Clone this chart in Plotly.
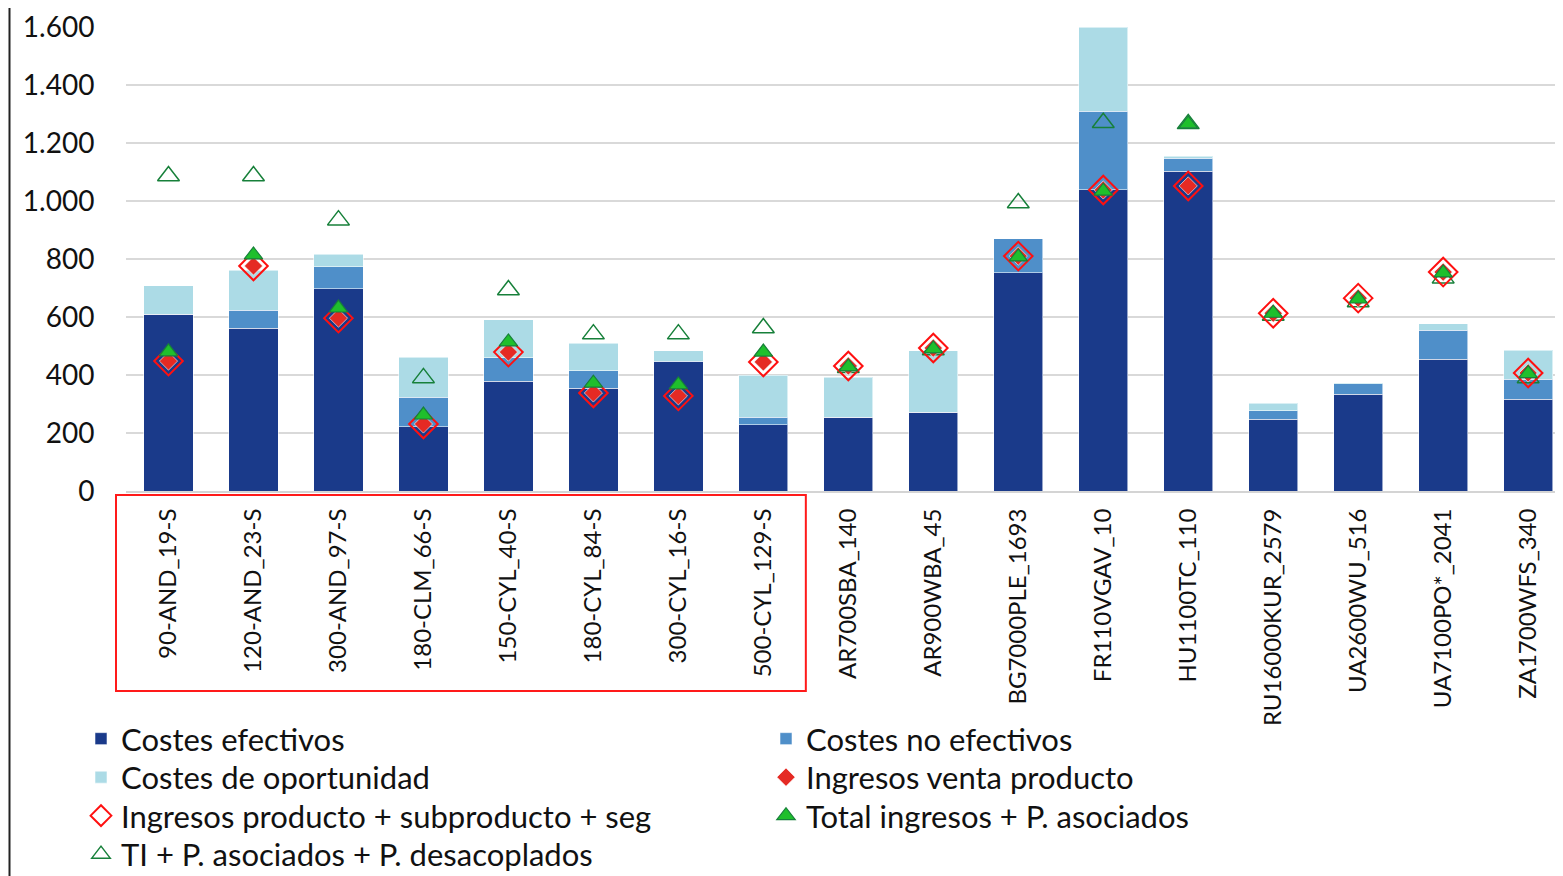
import plotly.graph_objects as go

categories = ["90-AND_19-S", "120-AND_23-S", "300-AND_97-S", "180-CLM_66-S", "150-CYL_40-S",
              "180-CYL_84-S", "300-CYL_16-S", "500-CYL_129-S", "AR700SBA_140", "AR900WBA_45",
              "BG7000PLE_1693", "FR110VGAV_10", "HU1100TC_110", "RU16000KUR_2579", "UA2600WU_516",
              "UA7100PO*_2041", "ZA1700WFS_340"]

costes_efectivos = [610, 562, 697, 221, 379, 355, 445, 228, 255, 272, 752, 1038, 1103, 248, 334, 455, 317]
costes_no_efectivos = [0, 62, 76, 103, 80, 59, 3, 27, 0, 0, 117, 272, 45, 28, 35, 100, 69]
costes_oportunidad = [97, 138, 44, 138, 131, 96, 35, 145, 138, 211, 0, 290, 7, 27, 3, 21, 100]
ingresos_venta = [448, 776, 596, 231, 479, 338, 328, 445, 431, 493, 810, 1038, 1052, 613, 665, 755, 407]
ingresos_prod_sub_seg = [448, 776, 596, 231, 479, 338, 328, 445, 431, 493, 810, 1038, 1052, 613, 665, 755, 407]
total_ingresos_asoc = [480, 814, 631, 262, 514, 372, 366, 479, 428, 490, 807, 1034, 1266, 613, 662, 752, 405]
ti_asoc_desacop = [1086, 1086, 934, 390, 693, 541, 541, 562, 425, 486, 993, 1270, 1266, 605, 652, 734, 390]

DARK = "#1a3a8a"
MID = "#4f8fc9"
LIGHT = "#acdbe6"
RED = "#e52a24"
REDLINE = "#ff1010"
GREEN = "#1fbf2c"
DGREEN = "#17803a"
FONT = "Lato"

fig = go.Figure()
bar_line = dict(color="rgba(255,255,255,0.55)", width=1)
fig.add_trace(go.Bar(x=categories, y=costes_efectivos, name="Costes efectivos",
                     marker=dict(color=DARK, line=bar_line), width=0.58, legend="legend"))
fig.add_trace(go.Bar(x=categories, y=costes_no_efectivos, name="Costes no efectivos",
                     marker=dict(color=MID, line=bar_line), width=0.58, legend="legend2"))
fig.add_trace(go.Bar(x=categories, y=costes_oportunidad, name="Costes de oportunidad",
                     marker=dict(color=LIGHT, line=bar_line), width=0.58, legend="legend3"))

fig.add_trace(go.Scatter(x=categories, y=ti_asoc_desacop, mode="markers",
                         name="TI + P. asociados + P. desacoplados",
                         marker=dict(symbol="triangle-up-open", size=19, color=DGREEN,
                                     line=dict(color=DGREEN, width=1.5)),
                         legend="legend7"))
fig.add_trace(go.Scatter(x=categories, y=ingresos_venta, mode="markers",
                         name="Ingresos venta producto",
                         marker=dict(symbol="diamond", size=14, color=RED,
                                     line=dict(color="rgba(255,255,255,0.6)", width=1)),
                         legend="legend4"))
fig.add_trace(go.Scatter(x=categories, y=ingresos_prod_sub_seg, mode="markers",
                         name="Ingresos producto + subproducto + seg",
                         marker=dict(symbol="diamond-open", size=22, color=REDLINE,
                                     line=dict(color=REDLINE, width=2)),
                         legend="legend5"))
fig.add_trace(go.Scatter(x=categories, y=total_ingresos_asoc, mode="markers",
                         name="Total ingresos + P. asociados",
                         marker=dict(symbol="triangle-up", size=16, color=GREEN,
                                     line=dict(color=DGREEN, width=1.2)),
                         legend="legend6"))

xr = [-0.5, 16.41]
def xfrac(c):
    return (c - xr[0]) / (xr[1] - xr[0])

# page offset of the figure (default body margin) and plot-area geometry
OFF = 8
W, H = 1555, 868
ml, mr, mt, mb = 118, 0, 19, 385
ph = H - mt - mb
pw = W - ml - mr

def ypix(py):  # screen pixel -> paper y
    return (H - mb - (py - OFF)) / ph

def xpix(px):  # screen pixel -> paper x
    return (px - OFF - ml) / pw

shapes = [
    dict(type="rect", xref="paper", yref="paper",
         x0=xpix(116), x1=xfrac(7.5), y0=ypix(691), y1=ypix(495),
         line=dict(color="#ff1a1a", width=2), fillcolor="rgba(0,0,0,0)"),
    dict(type="line", xref="paper", yref="paper", x0=xpix(9.5), x1=xpix(9.5), y0=ypix(880), y1=ypix(0),
         line=dict(color="#222222", width=2)),
]

LEG_FONT = 31
leg_common = dict(orientation="v", font=dict(family=FONT, size=LEG_FONT, color="#111111"),
                  bgcolor="rgba(0,0,0,0)", yanchor="top", xanchor="left",
                  tracegroupgap=0, itemwidth=30)

# legend grid: two columns, rows ~38.5 px apart (screen pixels)
col_x = [81, 766]
row_top = [740 - 28 + 38.5 * i for i in range(4)]
legend_cells = {"legend": (0, 0), "legend2": (1, 0), "legend3": (0, 1), "legend4": (1, 1),
                "legend5": (0, 2), "legend6": (1, 2), "legend7": (0, 3)}
legends = {k: dict(**leg_common, x=xpix(col_x[c]), y=ypix(row_top[r]))
           for k, (c, r) in legend_cells.items()}

fig.update_layout(
    width=W, height=H,
    margin=dict(l=ml, r=mr, t=mt, b=mb, autoexpand=False),
    plot_bgcolor="white", paper_bgcolor="white",
    barmode="stack",
    separators=",.",
    font=dict(family=FONT, color="#111111"),
    showlegend=True,
    shapes=shapes,
    xaxis=dict(range=xr, tickangle=-90, tickfont=dict(family=FONT, size=24, color="#111111"),
               ticks="outside", ticklen=6, tickcolor="rgba(0,0,0,0)",
               showline=True, linecolor="#d4d4d4", linewidth=2, showgrid=False),
    yaxis=dict(range=[0, 1600], tickvals=[0, 200, 400, 600, 800, 1000, 1200, 1400, 1600],
               tickformat=",d", tickfont=dict(family=FONT, size=28, color="#111111"),
               ticks="outside", ticklen=25, tickcolor="rgba(0,0,0,0)",
               showgrid=True, gridcolor="#d9d9d9", gridwidth=1.5,
               zeroline=False, showline=False),
    **legends,
)

fig.write_html("out.html")
